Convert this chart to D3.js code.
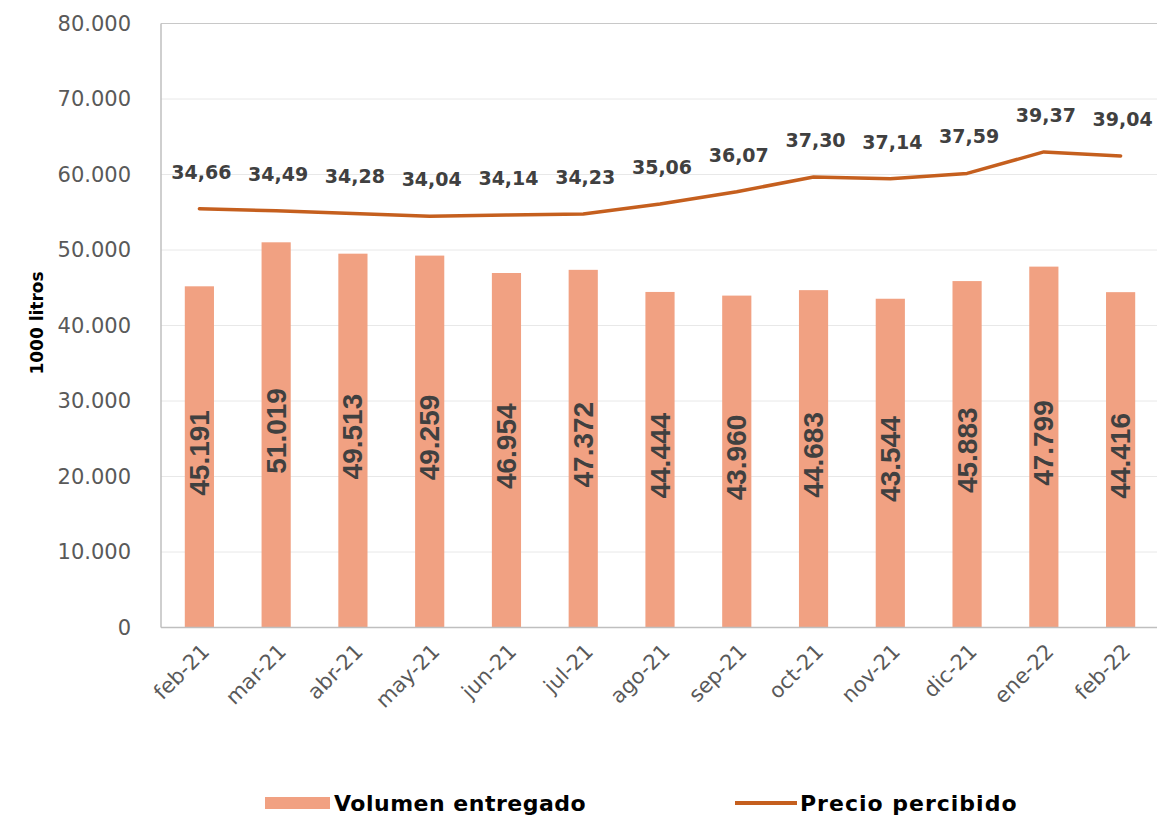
<!DOCTYPE html>
<html>
<head>
<meta charset="utf-8">
<script src="https://cdn.jsdelivr.net/npm/d3@7"></script>
<style>
  html, body { margin: 0; padding: 0; background: #fff; }
  svg { display: block; }
</style>
</head>
<body>
<svg id="chart" width="1157" height="817"></svg>
<script>
const months = ["feb-21","mar-21","abr-21","may-21","jun-21","jul-21","ago-21","sep-21","oct-21","nov-21","dic-21","ene-22","feb-22"];
const volumen = [45191, 51019, 49513, 49259, 46954, 47372, 44444, 43960, 44683, 43544, 45883, 47799, 44416];
const precio = [34.66, 34.49, 34.28, 34.04, 34.14, 34.23, 35.06, 36.07, 37.30, 37.14, 37.59, 39.37, 39.04];
const yTicks = [0, 10000, 20000, 30000, 40000, 50000, 60000, 70000, 80000];
const yTitle = "1000 litros";
const legendLabels = ["Volumen entregado", "Precio percibido"];

(function () {
const loc = d3.formatLocale({decimal: ",", thousands: ".", grouping: [3], currency: ["", "€"]});
const fmtInt = loc.format(",d");
const fmtDec = loc.format(",.2f");

const svg = d3.select("#chart");
const pLeft = 161, pRight = 1159, pTop = 23.5, pBottom = 627.5;

const x = d3.scaleBand().domain(months).range([pLeft, pRight]).paddingInner(0.62).paddingOuter(0.31);
const y = d3.scaleLinear().domain([0, 80000]).range([pBottom, pTop]);
const y2 = d3.scaleLinear().domain([0, 50]).range([pBottom, pTop]);

const barColor = "#F1A182";
const lineColor = "#C55F1E";
const axisFont = "'DejaVu Sans', sans-serif";

// gridlines
svg.append("g").selectAll("line").data(yTicks.filter(d => d > 0)).join("line")
  .attr("x1", pLeft).attr("x2", 1157)
  .attr("y1", d => y(d)).attr("y2", d => y(d))
  .attr("stroke", d => d === 80000 ? "#C8C8C8" : "#E8E8E8").attr("stroke-width", 1);

// left border
svg.append("line").attr("x1", pLeft).attr("x2", pLeft).attr("y1", pTop).attr("y2", pBottom)
  .attr("stroke", "#BFBFBF").attr("stroke-width", 1.5);

// y axis
const yAxis = svg.append("g").attr("transform", `translate(${pLeft},0)`)
  .call(d3.axisLeft(y).tickValues(yTicks).tickFormat(d => fmtInt(d)).tickSize(0).tickPadding(30));
yAxis.select(".domain").remove();
yAxis.selectAll("text").attr("font-family", axisFont).attr("font-size", 21).attr("fill", "#595959");

// bars
svg.append("g").selectAll("rect").data(volumen).join("rect")
  .attr("x", (d, i) => x(months[i]))
  .attr("y", d => y(d))
  .attr("width", x.bandwidth())
  .attr("height", d => y(0) - y(d))
  .attr("fill", barColor);

// bottom axis line
svg.append("line").attr("x1", pLeft).attr("x2", 1157).attr("y1", pBottom).attr("y2", pBottom)
  .attr("stroke", "#BFBFBF").attr("stroke-width", 1.5);

// x labels
const xAxis = svg.append("g").attr("transform", `translate(0,${pBottom})`)
  .call(d3.axisBottom(x).tickSize(0).tickPadding(0));
xAxis.select(".domain").remove();
xAxis.selectAll("text")
  .attr("font-family", axisFont).attr("font-size", 21).attr("fill", "#595959")
  .attr("text-anchor", "end")
  .attr("transform", "translate(6,20) rotate(-45)")
  .attr("dy", "0.35em").attr("y", 0);

// bar labels
svg.append("g").selectAll("text").data(volumen).join("text")
  .attr("transform", (d, i) => `translate(${x(months[i]) + x.bandwidth() / 2},${(y(d) + y(0)) / 2 - 4}) rotate(-90)`)
  .attr("text-anchor", "middle").attr("dominant-baseline", "central")
  .attr("font-family", "'Liberation Sans', Arial, sans-serif").attr("font-weight", "bold")
  .attr("font-size", 28).attr("fill", "#404040")
  .text(d => fmtInt(d));

// line
const line = d3.line().x((d, i) => x(months[i]) + x.bandwidth() / 2).y(d => y2(d));
svg.append("path").datum(precio).attr("d", line)
  .attr("fill", "none").attr("stroke", lineColor).attr("stroke-width", 3.5)
  .attr("stroke-linejoin", "round").attr("stroke-linecap", "round");

// line labels
svg.append("g").selectAll("text").data(precio).join("text")
  .attr("x", (d, i) => x(months[i]) + x.bandwidth() / 2 + 2)
  .attr("y", d => y2(d) - 30)
  .attr("text-anchor", "middle")
  .attr("font-family", axisFont).attr("font-weight", "bold")
  .attr("font-size", 19).attr("fill", "#404040")
  .text(d => fmtDec(d));

// y title
svg.append("text")
  .attr("transform", "translate(37,323) rotate(-90)")
  .attr("text-anchor", "middle").attr("dominant-baseline", "central")
  .attr("font-family", axisFont).attr("font-weight", "bold").attr("font-size", 17).attr("fill", "#000")
  .text(yTitle);

// legend
const lg = svg.append("g");
lg.append("rect").attr("x", 265).attr("y", 797).attr("width", 65).attr("height", 12).attr("fill", barColor);
lg.append("text").attr("x", 334).attr("y", 803).attr("dominant-baseline", "central")
  .attr("font-family", axisFont).attr("font-weight", "bold").attr("font-size", 22)
  .attr("letter-spacing", 0.5).attr("fill", "#000").text(legendLabels[0]);
lg.append("line").attr("x1", 735).attr("x2", 797).attr("y1", 803).attr("y2", 803)
  .attr("stroke", lineColor).attr("stroke-width", 4);
lg.append("text").attr("x", 800).attr("y", 803).attr("dominant-baseline", "central")
  .attr("font-family", axisFont).attr("font-weight", "bold").attr("font-size", 22)
  .attr("letter-spacing", 1).attr("fill", "#000").text(legendLabels[1]);
})();
</script>
</body>
</html>
